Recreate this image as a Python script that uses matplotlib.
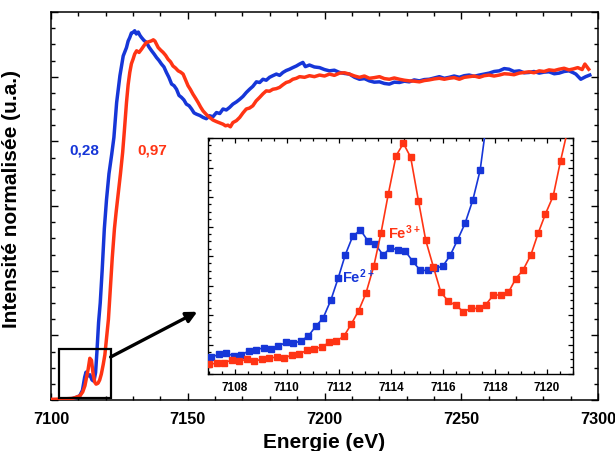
import matplotlib
matplotlib.use("Agg")
import matplotlib.pyplot as plt
from matplotlib.ticker import MultipleLocator, NullFormatter
from matplotlib.patches import Rectangle

plt.rcParams['font.family'] = ['Liberation Sans', 'DejaVu Sans']
plt.rcParams['font.weight'] = 'bold'
plt.rcParams['mathtext.fontset'] = 'custom'
plt.rcParams['mathtext.bf'] = 'Liberation Sans:bold'
plt.rcParams['mathtext.rm'] = 'Liberation Sans:bold'
plt.rcParams['mathtext.default'] = 'bf'

BLUE = "#1636d8"
RED = "#ff3414"

# ---------------- main spectra (normalised intensity) ----------------
blue_E = [7100, 7104, 7107, 7109, 7110.5, 7111.5, 7112.3, 7112.8, 7113.4, 7114.2, 7115.0, 7115.7,
          7116.3, 7116.8, 7117.4, 7118.0, 7118.7, 7119.5, 7120.3, 7121.2, 7122.2, 7123.0, 7124.0,
          7125.2, 7126.4, 7127.6, 7128.2, 7128.8, 7129.4, 7130.0, 7130.6, 7131.2, 7131.9, 7132.5,
          7133.1, 7134.0, 7134.9, 7135.8, 7136.8, 7137.7, 7138.6, 7139.5, 7140.4, 7141.3, 7142.2,
          7143.1, 7144.1, 7145.0, 7145.9, 7146.8, 7147.7, 7148.6, 7149.5, 7150.5, 7151.4, 7152.3,
          7153.2, 7154.4, 7155.6, 7156.8, 7158.0, 7159.2, 7160.5, 7161.7, 7162.9, 7164.1, 7165.3,
          7166.5, 7167.8, 7169.0, 7170.2, 7171.4, 7172.6, 7173.8, 7175.1, 7176.3, 7177.5, 7178.7,
          7179.9, 7181.1, 7182.4, 7183.6, 7184.8, 7186.0, 7187.2, 7188.4, 7189.7, 7190.9, 7192.1,
          7193.0, 7194.5, 7196.3, 7198.2, 7200.0, 7201.8, 7203.6, 7205.5, 7207.3, 7209.1, 7211.0,
          7212.8, 7214.6, 7216.4, 7218.2, 7220.1, 7221.9, 7223.7, 7225.5, 7227.4, 7229.2, 7231.0,
          7232.8, 7234.7, 7236.5, 7238.3, 7240.1, 7242.0, 7243.8, 7245.6, 7247.4, 7249.3, 7251.1,
          7252.9, 7254.7, 7256.6, 7258.4, 7260.2, 7262.0, 7263.9, 7265.7, 7267.5, 7269.3, 7271.2,
          7273.0, 7274.8, 7276.6, 7278.5, 7280.3, 7282.1, 7284.0, 7285.8, 7287.6, 7289.4, 7291.0,
          7291.9, 7293.7, 7295.5, 7297.0]
blue_I = [0.000, 0.001, 0.003, 0.007, 0.013, 0.030, 0.070, 0.086, 0.074, 0.078, 0.062, 0.058,
          0.085, 0.150, 0.240, 0.300, 0.400, 0.530, 0.620, 0.700, 0.760, 0.812, 0.920,
          1.003, 1.064, 1.090, 1.110, 1.121, 1.135, 1.137, 1.142, 1.132, 1.138, 1.128,
          1.121, 1.112, 1.106, 1.092, 1.080, 1.070, 1.059, 1.050, 1.039, 1.030, 1.013,
          0.998, 0.977, 0.972, 0.961, 0.942, 0.936, 0.928, 0.915, 0.910, 0.900, 0.888,
          0.884, 0.880, 0.874, 0.870, 0.879, 0.876, 0.889, 0.886, 0.900, 0.897, 0.905,
          0.915, 0.922, 0.930, 0.939, 0.951, 0.961, 0.970, 0.984, 0.982, 0.992, 0.989,
          0.998, 1.003, 1.008, 1.004, 1.013, 1.019, 1.023, 1.028, 1.033, 1.039, 1.044,
          1.031, 1.036, 1.030, 1.028, 1.022, 1.018, 1.020, 1.013, 1.010, 1.008, 0.998,
          0.992, 0.994, 0.987, 0.983, 0.984, 0.979, 0.977, 0.983, 0.982, 0.986, 0.984,
          0.990, 0.987, 0.991, 0.992, 0.996, 1.000, 0.995, 0.998, 1.002, 0.998, 1.003,
          1.005, 1.001, 1.005, 1.008, 1.011, 1.016, 1.018, 1.025, 1.023, 1.016, 1.018,
          1.012, 1.013, 1.016, 1.011, 1.014, 1.015, 1.009, 1.011, 1.016, 1.018, 1.012,
          1.008, 0.992, 1.000, 1.005]

red_E = [7100, 7104, 7108, 7110.6, 7111.6, 7112.4, 7113.0, 7113.6, 7114.2, 7114.8, 7115.4, 7116.0,
         7116.5, 7117.2, 7117.8, 7118.4, 7119.1, 7119.7, 7120.3, 7121.0, 7121.6, 7122.4, 7123.2,
         7123.8, 7124.6, 7125.4, 7126.2, 7126.8, 7127.6, 7128.2, 7128.8, 7129.4, 7130.0, 7130.6,
         7131.3, 7132.2, 7133.1, 7134.0, 7134.9, 7135.8, 7136.8, 7137.4, 7138.0, 7138.6, 7139.2,
         7140.1, 7141.0, 7141.9, 7142.8, 7143.7, 7144.6, 7145.5, 7146.5, 7147.4, 7148.3, 7149.2,
         7150.1, 7151.0, 7151.9, 7152.8, 7153.8, 7154.7, 7155.6, 7156.8, 7158.0, 7159.2, 7160.5,
         7161.7, 7162.9, 7163.8, 7164.7, 7165.6, 7166.5, 7167.8, 7169.0, 7170.2, 7171.4, 7172.6,
         7173.8, 7175.0, 7176.3, 7177.5, 7178.7, 7179.9, 7181.1, 7182.4, 7183.6, 7184.8, 7186.0,
         7187.2, 7188.4, 7189.7, 7190.9, 7192.7, 7194.5, 7196.3, 7198.2, 7200.0, 7201.8, 7203.6,
         7205.5, 7207.3, 7209.1, 7211.0, 7212.8, 7214.6, 7216.4, 7218.2, 7220.1, 7221.9, 7223.7,
         7225.5, 7227.4, 7229.2, 7231.0, 7232.8, 7234.7, 7236.5, 7238.3, 7240.1, 7242.0, 7243.8,
         7245.6, 7247.4, 7249.3, 7251.1, 7252.9, 7254.7, 7256.6, 7258.4, 7260.2, 7262.0, 7263.9,
         7265.7, 7267.5, 7269.3, 7271.2, 7273.0, 7274.8, 7276.6, 7278.5, 7280.3, 7282.1, 7284.0,
         7285.8, 7287.6, 7289.4, 7291.0, 7292.6, 7294.2, 7295.2, 7296.6]
red_I = [0.002, 0.003, 0.005, 0.013, 0.025, 0.044, 0.070, 0.096, 0.129, 0.123, 0.080, 0.055,
         0.049, 0.052, 0.062, 0.080, 0.110, 0.140, 0.190, 0.250, 0.330, 0.440, 0.530,
         0.580, 0.640, 0.700, 0.766, 0.830, 0.920, 0.975, 1.013, 1.040, 1.054, 1.070,
         1.080, 1.075, 1.085, 1.096, 1.106, 1.108, 1.111, 1.114, 1.110, 1.100, 1.090,
         1.082, 1.075, 1.066, 1.054, 1.046, 1.033, 1.027, 1.018, 1.014, 1.008, 0.990,
         0.972, 0.960, 0.946, 0.934, 0.920, 0.906, 0.894, 0.883, 0.874, 0.866, 0.861,
         0.857, 0.853, 0.848, 0.850, 0.845, 0.858, 0.864, 0.874, 0.888, 0.900, 0.903,
         0.910, 0.925, 0.936, 0.947, 0.956, 0.955, 0.961, 0.963, 0.967, 0.975, 0.982,
         0.985, 0.992, 0.995, 1.000, 0.998, 1.003, 1.000, 1.005, 1.002, 1.008, 1.004,
         1.011, 1.012, 1.008, 1.002, 0.998, 1.002, 0.995, 0.997, 1.000, 0.994, 0.992,
         0.996, 0.992, 0.989, 0.987, 0.986, 0.984, 0.988, 0.990, 0.993, 0.995, 0.992,
         0.995, 0.997, 0.992, 0.998, 1.000, 1.002, 0.998, 1.003, 1.005, 1.002, 1.005,
         1.009, 1.008, 1.006, 1.011, 1.013, 1.015, 1.012, 1.018, 1.016, 1.021, 1.019,
         1.023, 1.026, 1.021, 1.024, 1.028, 1.022, 1.039, 1.023]

# ---------------- pre-edge (inset) ----------------
inset_blue_E = [7107.07, 7107.39, 7107.66, 7107.95, 7108.24, 7108.53, 7108.81, 7109.11, 7109.39,
                7109.67, 7109.97, 7110.25, 7110.53, 7110.83, 7111.11, 7111.39, 7111.69, 7111.97,
                7112.25, 7112.53, 7112.83, 7113.12, 7113.40, 7113.70, 7113.98, 7114.28, 7114.56,
                7114.84, 7115.13, 7115.42, 7115.71, 7115.99, 7116.28, 7116.56, 7116.85, 7117.15,
                7117.43, 7117.72]
inset_blue_I = [0.0096, 0.0113, 0.0119, 0.0106, 0.0108, 0.0133, 0.0138, 0.0152, 0.0144,
                0.0161, 0.0182, 0.0177, 0.0190, 0.0219, 0.0275, 0.0321, 0.0425, 0.0551,
                0.0688, 0.0793, 0.0830, 0.0766, 0.0747, 0.0686, 0.0726, 0.0715, 0.0707,
                0.0649, 0.0597, 0.0597, 0.0611, 0.0620, 0.0684, 0.0772, 0.0868, 0.1003,
                0.1174, 0.1500]
inset_red_E = [7107.02, 7107.30, 7107.60, 7107.89, 7108.17, 7108.47, 7108.75, 7109.04, 7109.33,
               7109.62, 7109.90, 7110.19, 7110.47, 7110.76, 7111.04, 7111.34, 7111.62, 7111.90,
               7112.19, 7112.47, 7112.76, 7113.04, 7113.34, 7113.62, 7113.90, 7114.20, 7114.48,
               7114.76, 7115.06, 7115.34, 7115.63, 7115.92, 7116.21, 7116.49, 7116.79, 7117.07,
               7117.37, 7117.65, 7117.94, 7118.22, 7118.52, 7118.80, 7119.08, 7119.38, 7119.66,
               7119.94, 7120.24, 7120.52, 7120.80]
inset_red_I = [0.0058, 0.0061, 0.0065, 0.0081, 0.0073, 0.0086, 0.0073, 0.0086, 0.0094,
               0.0096, 0.0090, 0.0111, 0.0115, 0.0136, 0.0146, 0.0154, 0.0182, 0.0190,
               0.0217, 0.0286, 0.0365, 0.0465, 0.0620, 0.0813, 0.1037, 0.1258, 0.1329,
               0.1249, 0.0997, 0.0770, 0.0619, 0.0471, 0.0419, 0.0396, 0.0359, 0.0378,
               0.0378, 0.0400, 0.0455, 0.0455, 0.0471, 0.0549, 0.0599, 0.0686, 0.0811,
               0.0922, 0.1026, 0.1227, 0.1410]

x_ticks_main = [7100, 7150, 7200, 7250, 7300]
x_ticks_inset = [7108, 7110, 7112, 7114, 7116, 7118, 7120]
label_blue = "0,28"
label_red = "0,97"

fig = plt.figure(figsize=(6.15, 4.52), dpi=100)
ax = fig.add_axes([51/615, 51/452, 547/615, 388/452])
ax.plot(blue_E, blue_I, color=BLUE, lw=2.5, zorder=3)
ax.plot(red_E, red_I, color=RED, lw=2.5, zorder=3)
ax.set_xlim(7100, 7300)
ax.set_ylim(0, 1.2)
ax.set_xticks(x_ticks_main)
ax.set_xticklabels([str(t) for t in x_ticks_main], fontsize=11.7, fontweight='bold')
ax.xaxis.set_minor_locator(MultipleLocator(10))
ax.yaxis.set_major_locator(MultipleLocator(0.2))
ax.yaxis.set_minor_locator(MultipleLocator(0.05))
ax.yaxis.set_major_formatter(NullFormatter())
ax.tick_params(which='both', direction='in', top=True, right=True, width=1.0)
ax.tick_params(which='major', length=5, pad=8)
ax.tick_params(which='minor', length=2.8)
for s in ax.spines.values():
    s.set_linewidth(1.1)
ax.set_xlabel("Energie (eV)", fontsize=15, fontweight='bold', labelpad=4)
ax.set_ylabel("Intensité normalisée (u.a.)", fontsize=15, fontweight='bold', labelpad=9)
ax.yaxis.set_label_coords(-0.055, 0.52)

ax.text(7112.2, 0.776, label_blue, color=BLUE, fontsize=11, fontweight='bold', ha='center', va='center')
ax.text(7137.2, 0.776, label_red, color=RED, fontsize=11, fontweight='bold', ha='center', va='center')

ax.add_patch(Rectangle((7102.8, 0.006), 19.0, 0.152, fill=False, ec='black', lw=1.6, zorder=5))
ax.annotate("", xy=(7153.5, 0.273), xytext=(7121.8, 0.133),
            arrowprops=dict(arrowstyle='-|>', lw=2.4, color='black', mutation_scale=16,
                            shrinkA=0, shrinkB=0), zorder=5)

# inset
ai = fig.add_axes([207.5/615, 77/452, 365.5/615, 236/452])
ai.set_facecolor('white')
ai.plot(inset_blue_E, inset_blue_I, color=BLUE, lw=1.2, marker='s', ms=4, zorder=3)
ai.plot(inset_red_E, inset_red_I, color=RED, lw=1.2, marker='s', ms=4, zorder=3)
ai.set_xlim(7106.95, 7121.0)
ai.set_ylim(0, 0.136)
ai.set_xticks(x_ticks_inset)
ai.set_xticklabels([str(t) for t in x_ticks_inset], fontsize=8.5, fontweight='bold')
ai.xaxis.set_minor_locator(MultipleLocator(0.5))
ai.yaxis.set_major_locator(MultipleLocator(0.017))
ai.yaxis.set_minor_locator(MultipleLocator(0.00425))
ai.yaxis.set_major_formatter(NullFormatter())
ai.tick_params(which='both', direction='in', top=True, right=True, width=0.9)
ai.tick_params(which='major', length=3.5, pad=5)
ai.tick_params(which='minor', length=2)
for s in ai.spines.values():
    s.set_linewidth(1.0)
ai.text(7112.12, 0.0565, "Fe$^{2+}$", color=BLUE, fontsize=10.5, fontweight='bold', ha='left', va='center')
ai.text(7113.87, 0.082, "Fe$^{3+}$", color=RED, fontsize=10.5, fontweight='bold', ha='left', va='center')

fig.savefig("out.png", dpi=100)
